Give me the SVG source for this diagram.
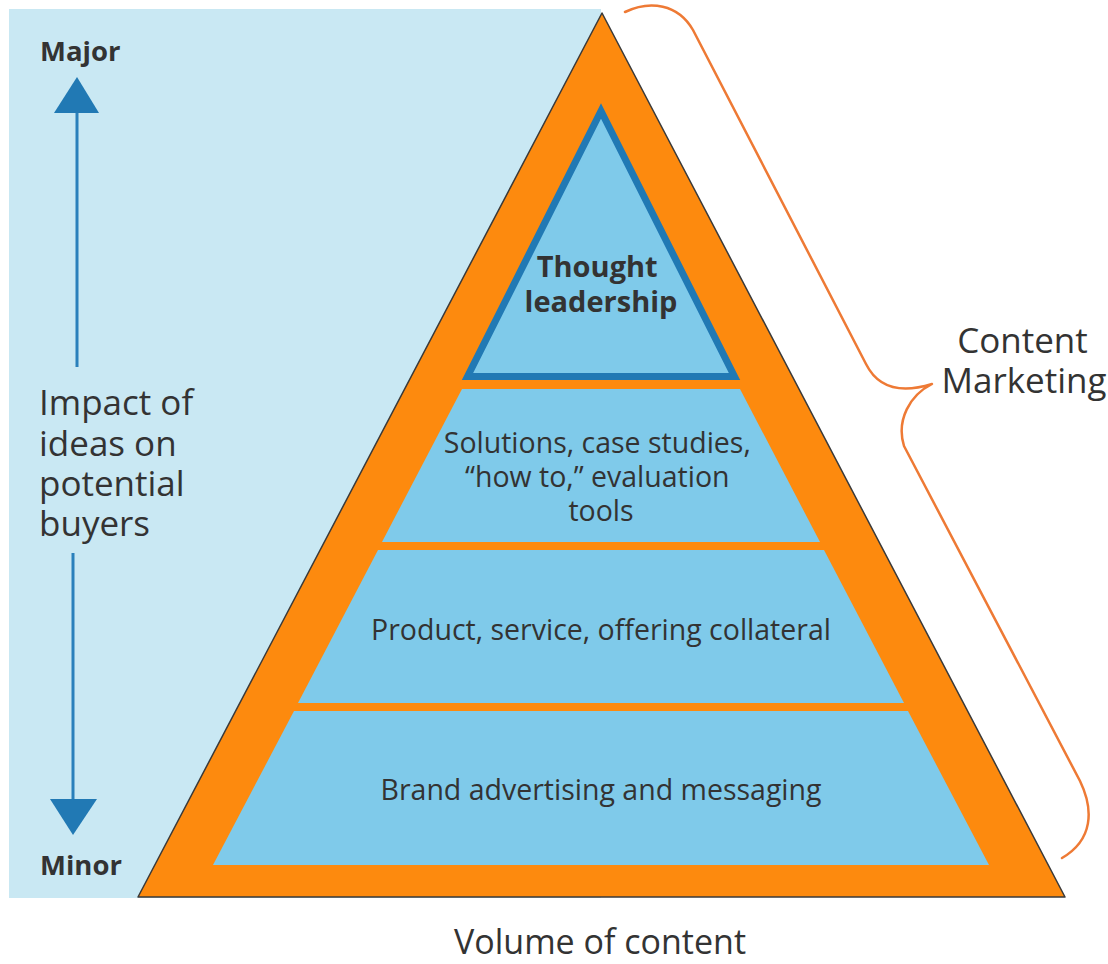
<svg xmlns="http://www.w3.org/2000/svg" width="1108" height="964" viewBox="0 0 1108 964">
  <style>
    .lbl { font-family: "Open Sans", "Liberation Sans", sans-serif; fill: #333333; }
    .bold { font-weight: 700; }
    .band { fill: #7fcaea; }
    .axis { stroke: #2a80bb; stroke-width: 3; fill: none; }
    .head { fill: #2179b4; }
  </style>

  <!-- panel behind the vertical axis -->
  <rect x="9" y="9" width="592" height="889" fill="#c9e8f3"/>

  <!-- pyramid frame -->
  <g id="pyramid">
    <polygon points="602,13 1065,897 138,897" fill="#fd8a0e" stroke="#3a3a3a" stroke-width="1.5" stroke-linejoin="round"/>
  </g>

  <g id="thought-leadership">
    <polygon points="601,111 734.5,376.5 467.5,376.5" fill="#7fcaea" stroke="#2179b4" stroke-width="7"/>
    <text class="lbl bold" font-size="29" text-anchor="middle">
      <tspan x="601" y="277">Thought</tspan>
      <tspan x="601" y="312">leadership</tspan>
    </text>
  </g>

  <g id="solutions">
    <polygon class="band" points="462,389 740,389 820,542 382,542"/>
    <text class="lbl" font-size="28.5" text-anchor="middle">
      <tspan x="601" y="453">Solutions, case studies,</tspan>
      <tspan x="601" y="487">“how to,” evaluation</tspan>
      <tspan x="601" y="521">tools</tspan>
    </text>
  </g>

  <g id="collateral">
    <polygon class="band" points="378,550 824,550 904,703 298,703"/>
    <text class="lbl" x="601" y="640" font-size="28.5" text-anchor="middle">Product, service, offering collateral</text>
  </g>

  <g id="brand">
    <polygon class="band" points="294,711 908,711 989,865 213,865"/>
    <text class="lbl" x="601" y="800" font-size="28.5" text-anchor="middle">Brand advertising and messaging</text>
  </g>

  <g id="axis-labels">
    <text class="lbl bold" x="40" y="61" font-size="27.5">Major</text>
    <text class="lbl bold" x="40" y="875" font-size="27.5">Minor</text>
    <text class="lbl" font-size="35">
      <tspan x="39" y="415">Impact of</tspan>
      <tspan x="39" y="456">ideas on</tspan>
      <tspan x="39" y="496">potential</tspan>
      <tspan x="39" y="536">buyers</tspan>
    </text>
  </g>

  <g id="content-marketing">
    <text class="lbl" font-size="35" text-anchor="middle">
      <tspan x="1027" y="353">Content</tspan>
      <tspan x="1024" y="393">Marketing</tspan>
    </text>
  </g>

  <g id="volume">
    <text class="lbl" x="600" y="954" font-size="34" text-anchor="middle">Volume of content</text>
  </g>

  <g id="connectors">
    <!-- impact axis: up arrow -->
    <line class="axis" x1="77" y1="110" x2="77" y2="367"/>
    <polygon class="head" points="77,77 99,113 54,113"/>
    <!-- impact axis: down arrow -->
    <line class="axis" x1="73" y1="553" x2="73" y2="802"/>
    <polygon class="head" points="50,799 97,799 73,835"/>
    <!-- brace spanning the pyramid -->
    <path d="M 625 12 C 650 0, 678 4, 693 30 L 866 364 C 878 388, 900 394, 932 384 C 910 395, 896 420, 904 446 L 1080 781 C 1094 810, 1093 840, 1062 858" fill="none" stroke="#ee7a35" stroke-width="2.5" stroke-linecap="round" stroke-linejoin="round"/>
  </g>
</svg>
